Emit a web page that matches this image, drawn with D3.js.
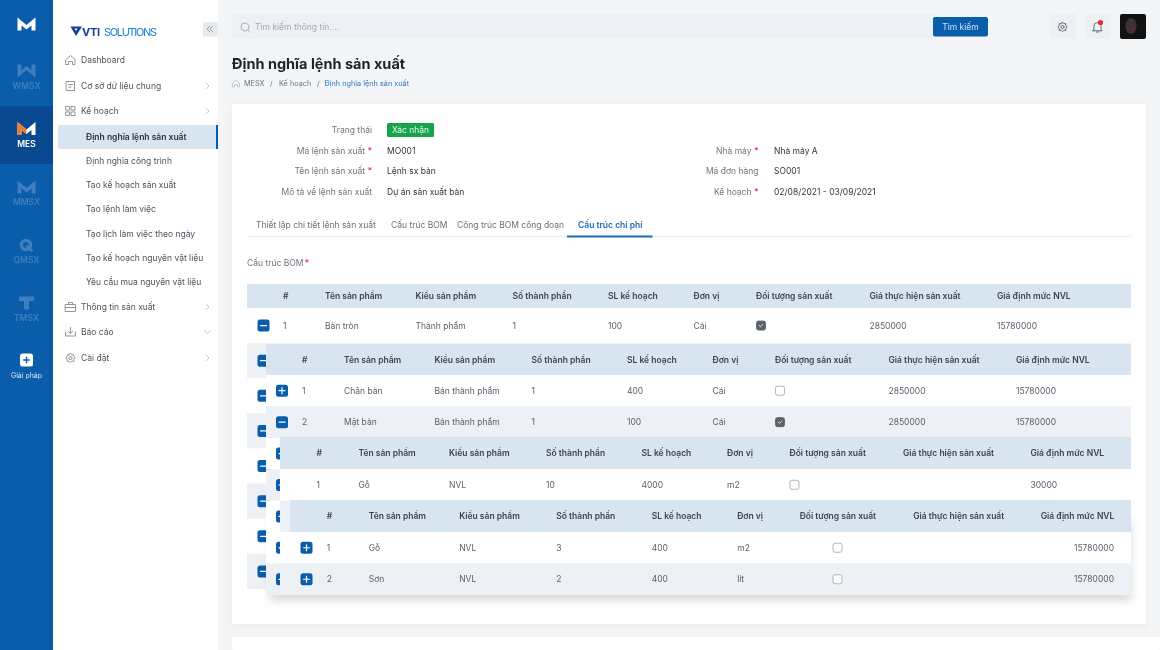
<!DOCTYPE html>
<html>
<head>
<meta charset="utf-8">
<script src="https://cdn.jsdelivr.net/npm/d3@7"></script>
<style>
  html, body { margin: 0; padding: 0; background: #fff; overflow: hidden; }
  svg { display: block; font-family: Inter, "Noto Sans", sans-serif; filter: blur(0.3px); }
</style>
</head>
<body>
<div id="chart"></div>
<script>
// values
const railLabels = ["WMSX", "MES", "MMSX", "QMSX", "TMSX"];
const menuLabels = ["Dashboard", "Cơ sở dữ liệu chung", "Kế hoạch", "Thông tin sản xuất", "Báo cáo", "Cài đặt"];
const menuChevrons = ["", ">", ">", ">", "v", ">"];
const subLabels = [
  "Định nghĩa lệnh sản xuất", "Định nghĩa công trình", "Tạo kế hoạch sản xuất", "Tạo lệnh làm việc",
  "Tạo lịch làm việc theo ngày", "Tạo kế hoạch nguyên vật liệu", "Yêu cầu mua nguyên vật liệu"
];
const crumbs = ["MESX", "/", "Kế hoạch", "/", "Định nghĩa lệnh sản xuất"];
const formLeft = [
  ["Trạng thái", "Xác nhận", false],
  ["Mã lệnh sản xuất", "MO001", true],
  ["Tên lệnh sản xuất", "Lệnh sx bàn", true],
  ["Mô tả về lệnh sản xuất", "Dự án sản xuất bàn", false]
];
const formRight = [
  ["Nhà máy", "Nhà máy A", true],
  ["Mã đơn hàng", "SO001", false],
  ["Kế hoạch", "02/08/2021 - 03/09/2021", true]
];
const tabLabels = ["Thiết lập chi tiết lệnh sản xuất", "Cấu trúc BOM", "Công trúc BOM công đoạn", "Cấu trúc chi phí"];
const columns = ["#", "Tên sản phẩm", "Kiểu sản phẩm", "Số thành phần", "SL kế hoạch", "Đơn vị", "Đối tượng sản xuất", "Giá thực hiện sản xuất", "Giá định mức NVL"];
const bomRows = [["1", "Bàn tròn", "Thành phẩm", "1", "100", "Cái", true, "2850000", "15780000"]];
const semiRows = [
  ["1", "Chân bàn", "Bán thành phẩm", "1", "400", "Cái", false, "2850000", "15780000"],
  ["2", "Mặt bàn", "Bán thành phẩm", "1", "100", "Cái", true, "2850000", "15780000"]
];
const woodRows = [["1", "Gỗ", "NVL", "10", "4000", "m2", false, "", "30000"]];
const materialRows = [
  ["1", "Gỗ", "NVL", "3", "400", "m2", false, "", "15780000"],
  ["2", "Sơn", "NVL", "2", "400", "lít", false, "", "15780000"]
];

const width = 1160;
const height = 650;
const blue = "#0a5dab";
const headBlue = "#d8e4f0";
const stripe = "#edf0f5";
const ink = "#3d4550";
const muted = "#6d7580";
const font = 8.5;

const svg = d3.select("#chart").append("svg").attr("width", width).attr("height", height);

const defs = svg.append("defs");
defs.append("filter").attr("id", "soft").attr("x", "-5%").attr("y", "-20%").attr("width", "110%").attr("height", "170%")
  .append("feDropShadow").attr("dx", 0).attr("dy", 6).attr("stdDeviation", 4).attr("flood-color", "#000").attr("flood-opacity", 0.14);
defs.append("filter").attr("id", "card").attr("x", "-2%").attr("y", "-2%").attr("width", "104%").attr("height", "104%")
  .append("feDropShadow").attr("dx", 0).attr("dy", 1).attr("stdDeviation", 3).attr("flood-color", "#000").attr("flood-opacity", 0.05);

const rect = (g, x, y, w, h, fill, r = 0) =>
  g.append("rect").attr("x", x).attr("y", y).attr("width", w).attr("height", h).attr("fill", fill).attr("rx", r);

const text = (g, x, y, s, o = {}) =>
  g.append("text").attr("x", x).attr("y", y).attr("dy", "0.38em")
    .attr("font-size", o.size || font).attr("font-weight", o.weight || 400)
    .attr("fill", o.fill || ink).attr("text-anchor", o.anchor || "start").text(s);

const stroke = (g, d, x, y, color = "#7b838e", w = 0.9) =>
  g.append("path").attr("d", d).attr("transform", `translate(${x},${y})`)
    .attr("fill", "none").attr("stroke", color).attr("stroke-width", w)
    .attr("stroke-linecap", "round").attr("stroke-linejoin", "round");

const icons = {
  home: "M-4.5,-0.5 L0,-4.5 L4.5,-0.5 V4.5 H2 V1.5 H-2 V4.5 H-4.5 Z",
  doc: "M-4,-4.5 H4 V4.5 H-4 Z M-2,-1.5 H2 M-2,1 H0.5",
  grid: "M-4.5,-4.5 h3.6 v3.6 h-3.6 Z M0.9,-4.5 h3.6 v3.6 h-3.6 Z M-4.5,0.9 h3.6 v3.6 h-3.6 Z M0.9,0.9 h3.6 v3.6 h-3.6 Z",
  case: "M-5,-2.5 H5 V4.5 H-5 Z M-2,-2.5 V-4.5 H2 V-2.5 M-5,0.5 H5",
  download: "M0,-4.5 V1.5 M-2.2,-0.6 L0,1.6 L2.2,-0.6 M-5,0 V4 H5 V0",
  gear: "M0,-4.7 L1.3,-3.3 L3.3,-3.3 L3.3,-1.3 L4.7,0 L3.3,1.3 L3.3,3.3 L1.3,3.3 L0,4.7 L-1.3,3.3 L-3.3,3.3 L-3.3,1.3 L-4.7,0 L-3.3,-1.3 L-3.3,-3.3 L-1.3,-3.3 Z M1.6,0 A1.6,1.6 0 1 1 -1.6,0 A1.6,1.6 0 1 1 1.6,0"
};
const menuIcons = ["home", "doc", "grid", "case", "download", "gear"];

const drawBackground = () => {
  rect(svg, 0, 0, width, height, "#f3f5f6");
  rect(svg, 232, 104, 914, 520, "#fff", 2).attr("filter", "url(#card)");
  rect(svg, 232, 637, 928, 13, "#fff", 2);
};

const mGlyph = (g, x, y, fill, leftFill) => {
  const m = g.append("g").attr("transform", `translate(${x},${y})`);
  m.append("path").attr("d", "M-9,-6.5 L0,1 L9,-6.5 V6.5 H5 V1.5 L0,5.5 L-5,1.5 V6.5 H-9 Z").attr("fill", fill);
  if (leftFill) m.append("path").attr("d", "M-9,-6.5 L0,1 L0,5.5 L-5,1.5 V6.5 H-9 Z").attr("fill", leftFill);
};

const drawRail = () => {
  const g = svg.append("g");
  rect(g, 0, 0, 53, height, blue);
  rect(g, 0, 106, 53, 58, "#08498f");
  const faded = "#3f7fbd";
  mGlyph(g, 26.5, 24, "#fff");

  const railY = d3.scalePoint().domain(railLabels).range([71, 303]);
  railLabels.forEach((label) => {
    const y = railY(label);
    const active = label === "MES";
    const color = active ? "#fff" : faded;
    if (label === "WMSX") {
      g.append("path").attr("d", "M-9,-6.5 H-5 V-0.5 L0,-5 L5,-0.5 V-6.5 H9 V6.5 L0,-1 L-9,6.5 Z")
        .attr("transform", `translate(26.5,${y})`).attr("fill", color);
    } else if (label === "QMSX") {
      g.append("circle").attr("cx", 26).attr("cy", y).attr("r", 4.6).attr("fill", "none").attr("stroke", color).attr("stroke-width", 3.4);
      stroke(g, "M0,0 L4,4", 27.5, y + 1.5, color, 3);
    } else if (label === "TMSX") {
      g.append("path").attr("d", "M-7.5,-6.5 H7.5 V-2 H2.5 V6.5 H-2.5 V-2 H-7.5 Z")
        .attr("transform", `translate(26.5,${y})`).attr("fill", color);
    } else {
      mGlyph(g, 26.5, active ? y - 0.5 : y, color, active ? "#ee7d31" : null);
    }
    text(g, 26.5, y + 15, label, { size: 8.5, weight: 600, fill: color, anchor: "middle" });
  });

  rect(g, 20, 353.5, 13, 13, "#fff", 2.5);
  stroke(g, "M-2.8,0 H2.8 M0,-2.8 V2.8", 26.5, 360, blue, 1.4);
  text(g, 26.5, 375.5, "Giải pháp", { size: 7, fill: "#dbe8f5", anchor: "middle" });
};

const drawMenu = () => {
  const g = svg.append("g");
  rect(g, 53, 0, 165, height, "#fff");

  // logo
  g.append("path").attr("d", "M70.5,26.5 H82 L76,36 Z M74.5,28.5 L76,31 L77.5,28.5 Z").attr("fill", "#123f9b").attr("fill-rule", "evenodd");
  text(g, 82, 31.5, "VTI", { size: 11, weight: 700, fill: "#123f9b" }).attr("textLength", 18);
  text(g, 104, 31.5, "SOLUTIONS", { size: 11, fill: "#1b84d6" }).attr("textLength", 53);

  rect(g, 203, 22, 15, 14.5, "#e6e9ee", 1.5);
  stroke(g, "M0,-2.6 L-2.4,0 L0,2.6 M3,-2.6 L0.6,0 L3,2.6", 209.5, 29, "#9aa1ab", 1);

  const topY = [60, 86, 111, 307, 332, 358];
  menuLabels.forEach((label, i) => {
    stroke(g, icons[menuIcons[i]], 70.5, topY[i], "#747c87", 0.8);
    text(g, 81, topY[i], label, { fill: "#4a525d" });
    if (menuChevrons[i] === ">") stroke(g, "M-1.5,-2.8 L1.5,0 L-1.5,2.8", 207.5, topY[i], "#b3b9c1", 0.8);
    if (menuChevrons[i] === "v") stroke(g, "M-2.8,-1.5 L0,1.5 L2.8,-1.5", 207.5, topY[i], "#b3b9c1", 0.8);
  });

  rect(g, 58, 125, 160, 24, headBlue, 2);
  rect(g, 216, 125, 2, 24, blue);
  const subY = d3.scalePoint().domain(subLabels).range([136.5, 282]);
  subLabels.forEach((label, i) => {
    text(g, 86, subY(label), label, { weight: i === 0 ? 600 : 400, fill: i === 0 ? "#2c333c" : "#4a525d" });
  });
};

const drawTopbar = () => {
  const g = svg.append("g");
  rect(g, 232, 14, 702, 25, stripe, 2);
  stroke(g, "M2,0 A4,4 0 1 1 -6,0 A4,4 0 1 1 2,0 M0.8,2.8 L3.3,5.2", 247, 27, "#9aa1ab", 0.8);
  text(g, 255, 26.5, "Tìm kiếm thông tin....", { fill: "#a4abb4" });
  rect(g, 933, 17, 55, 19.5, blue, 2);
  text(g, 960.5, 26.5, "Tìm kiếm", { fill: "#cfe3f7", anchor: "middle" });

  rect(g, 1050, 14, 26, 25, stripe, 3);
  stroke(g, icons.gear, 1062.5, 27, "#555d68", 0.9);
  rect(g, 1085, 14, 26, 25, stripe, 3);
  stroke(g, "M-3.6,2.8 V-0.8 A3.6,3.6 0 0 1 3.6,-0.8 V2.8 L4.6,3.8 H-4.6 Z M-1,5 H1", 1097.5, 27, "#555d68", 0.9);
  g.append("circle").attr("cx", 1100.5).attr("cy", 22.5).attr("r", 2.6).attr("fill", "#f5222d");

  rect(g, 1120, 14, 26, 25, "#111214", 2);
  g.append("ellipse").attr("cx", 1131).attr("cy", 26).attr("rx", 5.5).attr("ry", 8).attr("fill", "#3d3234");
  g.append("ellipse").attr("cx", 1132).attr("cy", 30).attr("rx", 2.2).attr("ry", 0.9).attr("fill", "#7a1f26");

  text(g, 232, 63, "Định nghĩa lệnh sản xuất", { size: 14.5, weight: 700, fill: "#20252b" });

  stroke(g, icons.home, 236, 83.5, "#8b929c", 0.6).attr("transform", "translate(236,83.5) scale(0.75)");
  const crumbX = [244, 270, 279, 317, 324.5];
  crumbs.forEach((c, i) => {
    text(g, crumbX[i], 83.5, c, { size: 7.3, fill: i === 4 ? "#2877c2" : "#6d7580" });
  });
};

const formRow = (g, rowY, labelX, valueX, row) => {
  const [label, value, required] = row;
  if (required) {
    text(g, labelX - 7, rowY, label, { fill: muted, anchor: "end" });
    text(g, labelX - 2, rowY, "*", { fill: "#f5222d", anchor: "middle" });
  } else {
    text(g, labelX, rowY, label, { fill: muted, anchor: "end" });
  }
  if (value === "Xác nhận") {
    rect(g, valueX, 123, 47, 14, "#16a34a", 1.5);
    text(g, valueX + 23.5, rowY, value, { fill: "#e7f8ee", anchor: "middle" });
  } else {
    text(g, valueX, rowY, value, { fill: "#2f363f" });
  }
};

const drawForm = () => {
  const g = svg.append("g");
  const y = d3.scalePoint().domain(d3.range(4)).range([130, 191.5]);
  formLeft.forEach((row, i) => formRow(g, y(i), 372, 387, row));
  formRight.forEach((row, i) => formRow(g, y(i + 1), 758.5, 774, row));

  const tabX = [256, 391, 457, 578];
  tabLabels.forEach((label, i) => {
    text(g, tabX[i], 225, label, i === 3 ? { weight: 600, fill: "#1e6ab8" } : { fill: "#68707b" });
  });
  rect(g, 247, 236, 884, 1, "#e8ebef");
  rect(g, 567, 235.5, 85.5, 2, "#1e6ab8");

  text(g, 247, 263, "Cấu trúc BOM", { fill: muted });
  text(g, 307, 263, "*", { fill: "#f5222d", anchor: "middle" });
};

const expander = (g, cx, cy, sign) => {
  rect(g, cx - 6, cy - 6, 12, 12, blue, 2.5);
  const d = sign === "+" ? "M-3,0 H3 M0,-3 V3" : "M-3,0 H3";
  stroke(g, d, cx, cy, "#fff", 1.2);
};

const checkbox = (g, cx, cy, checked) => {
  g.append("rect").attr("x", cx - 4.5).attr("y", cy - 4.5).attr("width", 9).attr("height", 9).attr("rx", 2)
    .attr("fill", checked ? "#5c626b" : "#fff").attr("stroke", checked ? "#5c626b" : "#a7adb5").attr("stroke-width", 0.9);
  if (checked) stroke(g, "M-1.8,0 L-0.5,1.2 L1.8,-1.2", cx, cy, "#fff", 0.8);
};

// one nested table; everything sits on its own scales, shifted by the nesting
const drawTable = (t) => {
  const g = svg.append("g");
  const x = d3.scaleOrdinal().domain(columns).range(t.columnX);
  const rowY = d3.scaleBand().domain(d3.range(t.bandCount)).range(t.rowRange);

  // shadow only shows under the lowest rows
  if (t.shadow) rect(g, t.x0 + 4, t.rowRange[1] - 80, 1131 - t.x0 - 4, 80, "#fff").attr("filter", "url(#soft)");
  rowY.domain().forEach((i) => {
    rect(g, t.x0, rowY(i), 1131 - t.x0, rowY.bandwidth(), t.greyRows.includes(i) ? stripe : "#fff");
  });
  (t.buttons || []).forEach((i) => expander(g, t.buttonX, rowY(i) + rowY.bandwidth() / 2, "-"));

  rect(g, t.x0, t.headY, 1131 - t.x0, t.rowRange[0] - t.headY, headBlue);
  columns.forEach((c) => {
    text(g, x(c), (t.headY + t.rowRange[0]) / 2, c, { weight: 600, fill: "#3c444f" });
  });

  t.rows.forEach((row, r) => {
    const cy = rowY(r) + rowY.bandwidth() / 2;
    rect(g, t.x0, rowY(r), 1131 - t.x0, rowY.bandwidth(), t.greyRows.includes(r) ? stripe : "#fff");
    if (t.signs[r]) expander(g, t.buttonX, cy, t.signs[r]);
    columns.forEach((c, k) => {
      const v = row[k];
      if (typeof v === "boolean") {
        checkbox(g, t.checkX, cy, v);
      } else if (k === 8 && t.rightAlign) {
        text(g, 1114, cy, v, { fill: "#59616c", anchor: "end" });
      } else {
        text(g, x(c), cy, v, { fill: "#59616c" });
      }
    });
  });
};

const baseX = [283, 325, 415.5, 512.5, 608, 693.5, 756, 869.5, 997];
const shifted = (dx) => baseX.map((v) => v + dx);

drawBackground();
drawRail();
drawMenu();
drawTopbar();
drawForm();

drawTable({
  x0: 247, headY: 284, rowRange: [308, 589], bandCount: 8, columnX: baseX, rows: bomRows,
  greyRows: [1, 3, 5, 7], buttons: [1, 2, 3, 4, 5, 6, 7], signs: ["-"], buttonX: 263.5, checkX: 761
});
drawTable({
  x0: 266, headY: 344, rowRange: [375, 595], bandCount: 7, columnX: shifted(19), rows: semiRows,
  greyRows: [1, 3, 6], buttons: [2, 3, 4, 5, 6], signs: ["+", "-"], buttonX: 282, checkX: 780, shadow: true
});
drawTable({
  x0: 280, headY: 437, rowRange: [469, 595], bandCount: 4, columnX: shifted(33.5), rows: woodRows,
  greyRows: [1, 3], signs: [], buttonX: 296, checkX: 794.5
});
drawTable({
  x0: 290, headY: 500, rowRange: [532, 595], bandCount: 2, columnX: shifted(43.7), rows: materialRows,
  greyRows: [1], signs: ["+", "+"], buttonX: 306.5, checkX: 837.5, rightAlign: true
});
</script>
</body>
</html>
